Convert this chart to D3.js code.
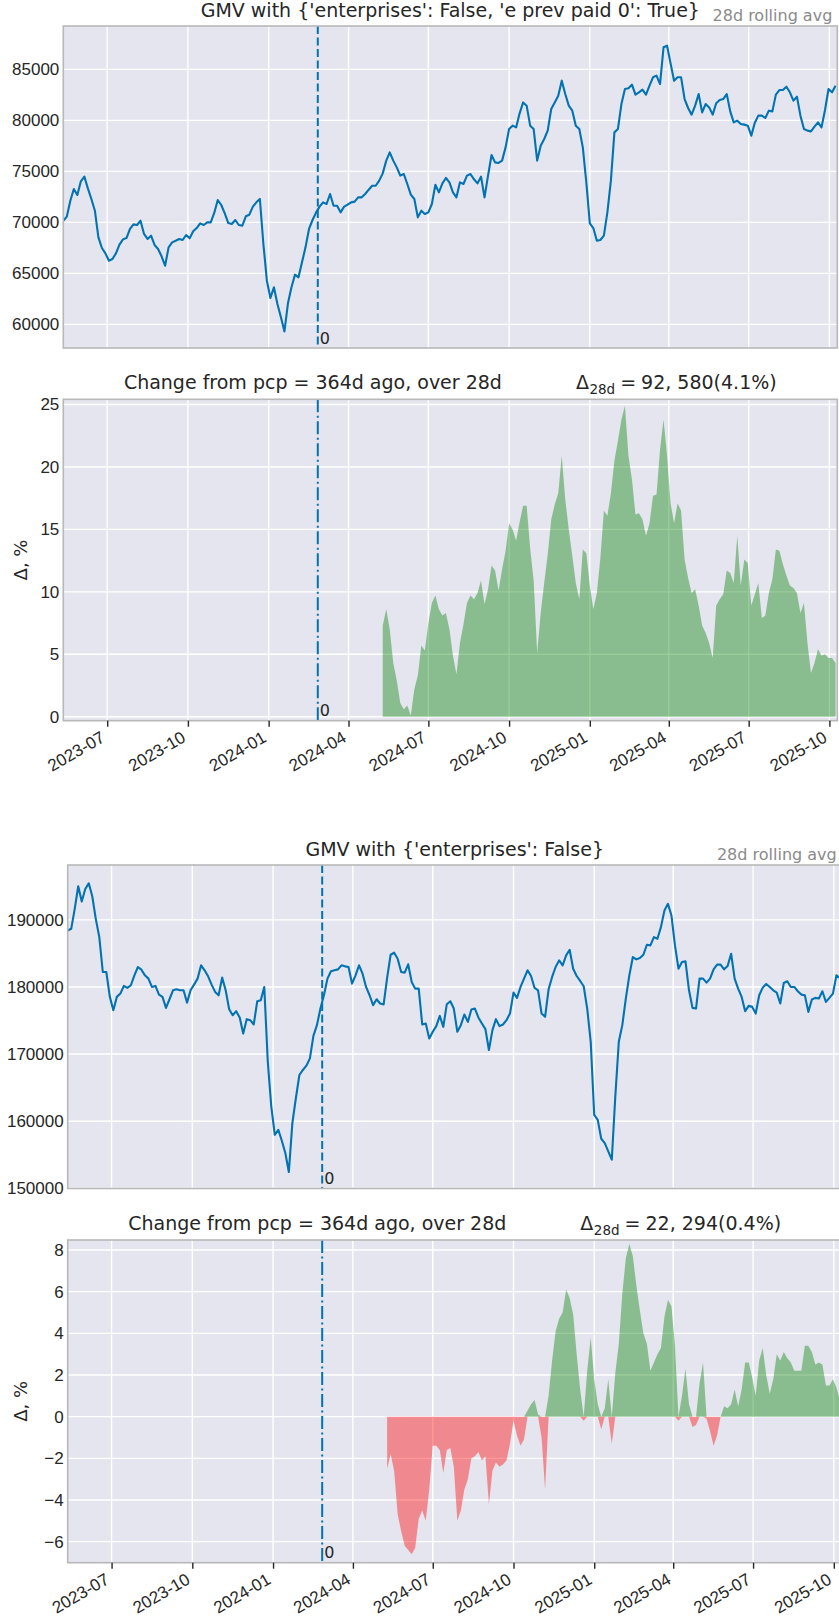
<!DOCTYPE html>
<html>
<head>
<meta charset="utf-8">
<script src="https://cdn.jsdelivr.net/npm/d3@7"></script>
<style>
  body { margin: 0; background: #fff; }
  svg { display: block; font-family: "DejaVu Sans", sans-serif; }
</style>
</head>
<body>
<div id="chart"></div>
<script>
// sampling: one value every 4 days
const startDay = '2023-05-12'
const endDay = '2025-10-10'
const deltaStartDay = '2024-05-10'
const stepDays = 4
const markerDay = '2024-02-26'

const gmvPrevPaid = [
  70160, 70560, 72120, 73270, 72680, 74020, 74480, 73330, 72290, 71140,
  68530, 67480, 66960, 66240, 66400, 66960, 67810, 68330, 68460, 69350,
  69800, 69740, 70160, 68860, 68370, 68690, 67780, 67390, 66670, 65750,
  67550, 68040, 68200, 68370, 68270, 68760, 68430, 69120, 69440, 69900,
  69740, 70000, 70000, 70920, 72190, 71700, 70880, 69930, 69840, 70230,
  69740, 69670, 70590, 70750, 71540, 71960, 72290, 67880, 64280, 62580,
  63630, 61990, 60690, 59310, 62060, 63630, 64870, 64610, 66080, 67550,
  69350, 70230, 70950, 71540, 71960, 71800, 72780, 71630, 71630, 70980,
  71540, 71730, 71960, 72030, 72450, 72450, 72780, 73200, 73590, 73590,
  74090, 74800, 76050, 76860, 76050, 75390, 74580, 74740, 73760, 72710,
  72290, 70490, 71140, 70820, 70980, 71800, 73690, 72940, 73820, 74350,
  73920, 72940, 72450, 73920, 73760, 74580, 74740, 74220, 73820, 74480,
  72450, 74580, 76600, 75880, 75820, 76050, 77350, 79150, 79480, 79310,
  80690, 81760, 81440, 79480, 79150, 76050, 77520, 78170, 78990, 81110,
  81760, 82420, 83890, 82580, 81440, 80950, 79480, 79150, 77350, 73920,
  69900, 69440, 68200, 68270, 68690, 70980, 74090, 78820, 79150, 81600,
  83070, 83140, 83500, 82520, 82750, 83010, 82520, 83400, 84220, 84380,
  83560, 87160, 87320, 85590, 83890, 84220, 84220, 82090, 81210, 80560,
  81440, 82580, 80780, 81600, 81270, 80560, 81670, 81990, 82090, 82580,
  80880, 79800, 79970, 79640, 79580, 79480, 78500, 79770, 80460, 80460,
  80230, 80950, 80880, 82520, 82970, 82970, 83300, 82750, 81930, 82320,
  80460, 79150, 78990, 78920, 79380, 79800, 79310, 81010, 83070, 82750,
  83400
]

const gmvAll = [
  188420, 188660, 191630, 195000, 192720, 194600, 195440, 193510, 190150, 187430,
  182230, 182230, 178560, 176540, 178520, 179010, 180150, 179850, 180250, 181730,
  182970, 182570, 181730, 181240, 180000, 180150, 178860, 178520, 176880, 178170,
  179500, 179650, 179500, 179500, 177670, 179500, 180350, 181240, 183220, 182480,
  181580, 180350, 179260, 178760, 181390, 179500, 176680, 175790, 176390, 175450,
  173070, 175200, 175050, 174410, 177870, 178020, 180000, 168860, 162180, 157970,
  158720, 157080, 155250, 152430, 159710, 163420, 166880, 167630, 168270, 169360,
  172720, 174310, 176780, 178760, 181240, 182330, 182480, 182620, 183220, 183070,
  182970, 180500, 181730, 183220, 181980, 180000, 178760, 177280, 178170, 177530,
  177380, 181340, 184800, 185100, 184210, 182230, 182130, 183370, 180740, 179750,
  179750, 174410, 174560, 172330, 173320, 174160, 175690, 174060, 177430, 177870,
  176780, 173320, 174310, 175890, 174800, 176630, 176780, 175450, 174560, 173710,
  170600, 173570, 175200, 174160, 174410, 175050, 176040, 179160, 178370, 180000,
  181240, 182480, 181630, 179850, 179500, 176040, 175550, 179650, 181490, 182970,
  183960, 183220, 184700, 185540, 182720, 181630, 180890, 180100, 176780, 171830,
  160940, 160200, 157380, 156740, 155500, 154260, 163660, 171830, 174310, 178270,
  181730, 184460, 184110, 184310, 184800, 186290, 186190, 187430, 187180, 188910,
  191390, 192380, 190640, 186190, 182720, 183710, 183810, 179500, 176880, 176780,
  181240, 181240, 180640, 181240, 182620, 183320, 183320, 182620, 183120, 184950,
  181240, 179750, 178520, 176390, 177180, 177030, 176040, 178760, 179900, 180450,
  180000, 179500, 179160, 177530, 180590, 180840, 180000, 180000, 179360, 178860,
  178760, 176290, 178120, 178370, 178270, 179360, 177770, 178370, 179010, 181730,
  181340
]

// % change vs 364 days earlier, from deltaStartDay on
const deltaPrevPaid = [
  7.3, 8.6, 7.0, 4.3, 2.9, 1.1, 0.6, 0.9, 0.1, 2.2,
  3.3, 5.7, 5.3, 7.5, 9.1, 9.7, 8.6, 8.1, 8.3, 7.0,
  4.9, 3.4, 5.9, 7.4, 9.1, 9.7, 9.4, 9.9, 10.9, 9.0,
  10.2, 12.1, 11.7, 10.1, 11.8, 13.3, 15.5, 15.0, 14.1, 15.6,
  16.9, 16.9, 13.5, 10.9, 5.1, 8.3, 10.7, 13.0, 15.8, 17.0,
  17.9, 20.9, 17.4, 15.0, 12.9, 10.7, 9.4, 13.4, 13.1, 10.5,
  8.6, 9.9, 12.7, 16.5, 16.1, 17.9, 20.5, 22.1, 23.8, 24.9,
  20.9, 19.0, 16.2, 16.3, 15.8, 14.5, 15.5, 17.7, 17.8, 21.4,
  23.8, 20.9, 17.1, 15.5, 17.1, 16.5, 12.6, 11.1, 9.9, 10.2,
  8.9, 7.3, 6.7, 5.9, 4.7, 8.9, 9.4, 9.8, 11.7, 11.5,
  10.7, 14.5, 10.5, 12.6, 12.3, 8.9, 9.8, 10.7, 7.9, 8.1,
  9.9, 11.0, 13.4, 13.3, 12.2, 11.3, 10.5, 10.3, 9.9, 8.3,
  9.1, 5.9, 3.5, 4.3, 5.4, 4.9, 5.0, 4.7, 4.7, 4.3
]

const deltaAll = [
  -2.5, -1.8, -2.6, -4.7, -5.5, -6.2, -6.4, -6.6, -6.3, -4.9,
  -4.5, -5.0, -3.5, -1.4, -1.4, -1.6, -2.7, -1.6, -1.5, -2.4,
  -5.0, -4.5, -3.5, -3.0, -2.0, -1.9, -1.7, -2.1, -1.9, -4.2,
  -2.6, -2.2, -2.4, -2.3, -2.1, -1.3, -0.2, -0.9, -1.4, -1.1,
  0.3, 0.6, 0.8, 0.1, -1.0, -3.5, 1.0, 2.7, 4.1, 4.7,
  5.0, 6.1, 5.7, 4.9, 3.0, 1.3, -0.2, 2.2, 3.8, 1.8,
  0.6, -0.6, 0.4, 1.8, -1.3, 2.1, 3.5, 5.9, 7.6, 8.3,
  7.7, 6.3, 5.1, 4.0, 3.5, 2.2, 2.6, 3.0, 3.3, 4.8,
  5.6, 5.3, 3.4, -0.2, 1.0, 2.3, 0.6, -0.5, -0.4, 1.6,
  2.6, -0.1, -0.7, -1.4, -0.9, 0.0, 0.5, 0.4, 0.6, 1.3,
  0.5, 1.3, 2.6, 2.6, 1.9, 1.0, 2.7, 3.3, 2.0, 1.1,
  1.8, 3.0, 2.7, 3.1, 2.8, 2.6, 2.2, 2.2, 2.2, 3.4,
  3.4, 3.1, 2.5, 2.6, 2.5, 1.5, 1.5, 1.8, 1.4, 0.8
]

const gmvTicksA = [60000, 65000, 70000, 75000, 80000, 85000]
const deltaTicksA = [0, 5, 10, 15, 20, 25]
const gmvTicksB = [150000, 160000, 170000, 180000, 190000]
const deltaTicksB = [-6, -4, -2, 0, 2, 4, 6, 8]

const titleA = "GMV with {'enterprises': False, 'e prev paid 0': True}"
const titleB = "GMV with {'enterprises': False}"
const changeTitle = 'Change from pcp = 364d ago, over 28d'
const deltaValueA = '92, 580(4.1%)'
const deltaValueB = '22, 294(0.4%)'

const W = 839
const H = 1617
const plotW = 774
const bg = '#e5e5ef'
const ink = '#262626'
const blue = '#0173b2'

const parse = d3.utcParse('%Y-%m-%d')

function series(first, values) {
  const t0 = parse(first)
  return values.map((v, i) => ({ date: d3.utcDay.offset(t0, i * stepDays), value: v }))
}

const svg = d3.select('#chart').append('svg')
  .attr('width', W)
  .attr('height', H)
  .attr('viewBox', `0 0 ${W} ${H}`)

let clipCount = 0

function panel(left, top, height, yDomain, yTicks) {
  const x = d3.scaleUtc().domain([parse(startDay), parse(endDay)]).range([0, plotW])
  const y = d3.scaleLinear().domain(yDomain).range([height, 0])
  const g = svg.append('g').attr('transform', `translate(${left},${top})`)

  const id = `clip${clipCount++}`
  g.append('clipPath').attr('id', id)
    .append('rect').attr('width', plotW).attr('height', height)

  g.append('rect').attr('width', plotW).attr('height', height).attr('fill', bg)

  const xt = x.ticks(d3.utcMonth.every(3))

  // grid
  const grid = g.append('g').attr('stroke', '#fff').attr('stroke-width', 1.4)
  grid.selectAll('.gx').data(xt).join('line')
    .attr('x1', (d) => x(d)).attr('x2', (d) => x(d))
    .attr('y1', 0).attr('y2', height)
  grid.selectAll('.gy').data(yTicks).join('line')
    .attr('x1', 0).attr('x2', plotW)
    .attr('y1', (d) => y(d)).attr('y2', (d) => y(d))

  // y labels
  const ay = g.append('g')
    .call(d3.axisLeft(y).tickValues(yTicks).tickFormat(d3.format('d')).tickSize(0).tickPadding(4))
  ay.select('.domain').remove()
  ay.selectAll('text').attr('font-size', 17).attr('fill', ink).attr('font-family', null)

  const body = g.append('g').attr('clip-path', `url(#${id})`)
  return { g, body, x, y, xt, height, left }
}

function frame(p) {
  p.g.append('rect')
    .attr('width', plotW).attr('height', p.height)
    .attr('fill', 'none').attr('stroke', '#b8b8b8').attr('stroke-width', 1.6)
}

function marker(p, dash) {
  const mx = p.x(parse(markerDay))
  p.body.append('line')
    .attr('x1', mx).attr('x2', mx).attr('y1', 0).attr('y2', p.height)
    .attr('stroke', blue).attr('stroke-width', 2).attr('stroke-dasharray', dash)
  p.g.append('text')
    .attr('x', mx + 2).attr('y', p.height - 4.5)
    .attr('font-size', 16).attr('fill', ink)
    .text('0')
}

function drawLine(p, data) {
  p.body.append('path')
    .datum(data)
    .attr('fill', 'none')
    .attr('stroke', blue)
    .attr('stroke-width', 2.1)
    .attr('stroke-linejoin', 'round')
    .attr('d', d3.line().x((d) => p.x(d.date)).y((d) => p.y(d.value)))
}

function drawDelta(p, data) {
  const up = d3.area()
    .x((d) => p.x(d.date)).y0(p.y(0)).y1((d) => p.y(Math.max(0, d.value)))
  const down = d3.area()
    .x((d) => p.x(d.date)).y0(p.y(0)).y1((d) => p.y(Math.min(0, d.value)))
  p.body.append('path').datum(data).attr('d', up)
    .attr('fill', '#008000').attr('fill-opacity', 0.4)
  p.body.append('path').datum(data).attr('d', down)
    .attr('fill', '#ff0000').attr('fill-opacity', 0.4)
}

function dateAxis(p) {
  const ax = p.g.append('g')
    .attr('transform', `translate(0,${p.height})`)
    .call(d3.axisBottom(p.x).tickValues(p.xt).tickFormat(d3.utcFormat('%Y-%m')).tickSize(6).tickSizeOuter(0))
  ax.select('.domain').remove()
  ax.selectAll('line').attr('stroke', ink).attr('stroke-width', 1.4)
  ax.selectAll('text')
    .attr('font-size', 17).attr('fill', ink).attr('font-family', null)
    .attr('text-anchor', 'end')
    .attr('x', 0).attr('y', 0).attr('dy', '0.75em')
    .attr('transform', 'translate(-8,9) rotate(-30)')
}

function lineTitle(p, text) {
  p.g.append('text')
    .attr('x', plotW / 2).attr('y', -9)
    .attr('text-anchor', 'middle').attr('font-size', 19).attr('fill', ink)
    .text(text)
  p.g.append('text')
    .attr('x', plotW - 5).attr('y', -5)
    .attr('text-anchor', 'end').attr('font-size', 16).attr('fill', '#8a8a8a')
    .text('28d rolling avg')
}

// title is laid out piece by piece: caption, then Δ with a lowered "28d", then the value
function deltaTitle(p, value) {
  const pieces = [
    { text: changeTitle, size: 19, shift: 0, gap: 74 },
    { text: 'Δ', size: 19, shift: 0, gap: 0.5 },
    { text: '28d', size: 13.5, shift: 5, gap: 5 },
    { text: '=', size: 19, shift: 0, gap: 5 },
    { text: value, size: 19, shift: 0, gap: 0 },
  ]
  const g = p.g.append('g').attr('fill', ink)
  const nodes = pieces.map((pc) => g.append('text')
    .attr('font-size', pc.size)
    .attr('y', -10 + pc.shift)
    .text(pc.text))
  const widths = nodes.map((n) => n.node().getComputedTextLength())
  const total = d3.sum(widths) + d3.sum(pieces, (pc) => pc.gap)
  let cx = plotW / 2 - total / 2
  nodes.forEach((n, i) => {
    n.attr('x', cx)
    cx += widths[i] + pieces[i].gap
  })
}

function yLabel(p) {
  p.g.append('text')
    .attr('transform', `translate(${27 - p.left},${p.height / 2}) rotate(-90)`)
    .attr('text-anchor', 'middle').attr('font-size', 18).attr('fill', ink)
    .text('Δ, %')
}

// figure 1
const p1 = panel(63.3, 26, 322, [57680, 89250], gmvTicksA)
drawLine(p1, series(startDay, gmvPrevPaid))
marker(p1, '8,3.5')
frame(p1)
lineTitle(p1, titleA)

const p2 = panel(63.3, 399.3, 321.4, [-0.32, 25.42], deltaTicksA)
drawDelta(p2, series(deltaStartDay, deltaPrevPaid))
marker(p2, '13,3.5,2,3.5')
frame(p2)
dateAxis(p2)
deltaTitle(p2, deltaValueA)
yLabel(p2)

// figure 2
const p3 = panel(67.7, 865, 323.5, [149970, 198170], gmvTicksB)
drawLine(p3, series(startDay, gmvAll))
marker(p3, '8,3.5')
frame(p3)
lineTitle(p3, titleB)

const p4 = panel(67.7, 1240, 322.7, [-7.01, 8.48], deltaTicksB)
drawDelta(p4, series(deltaStartDay, deltaAll))
marker(p4, '13,3.5,2,3.5')
frame(p4)
dateAxis(p4)
deltaTitle(p4, deltaValueB)
yLabel(p4)
</script>
</body>
</html>
